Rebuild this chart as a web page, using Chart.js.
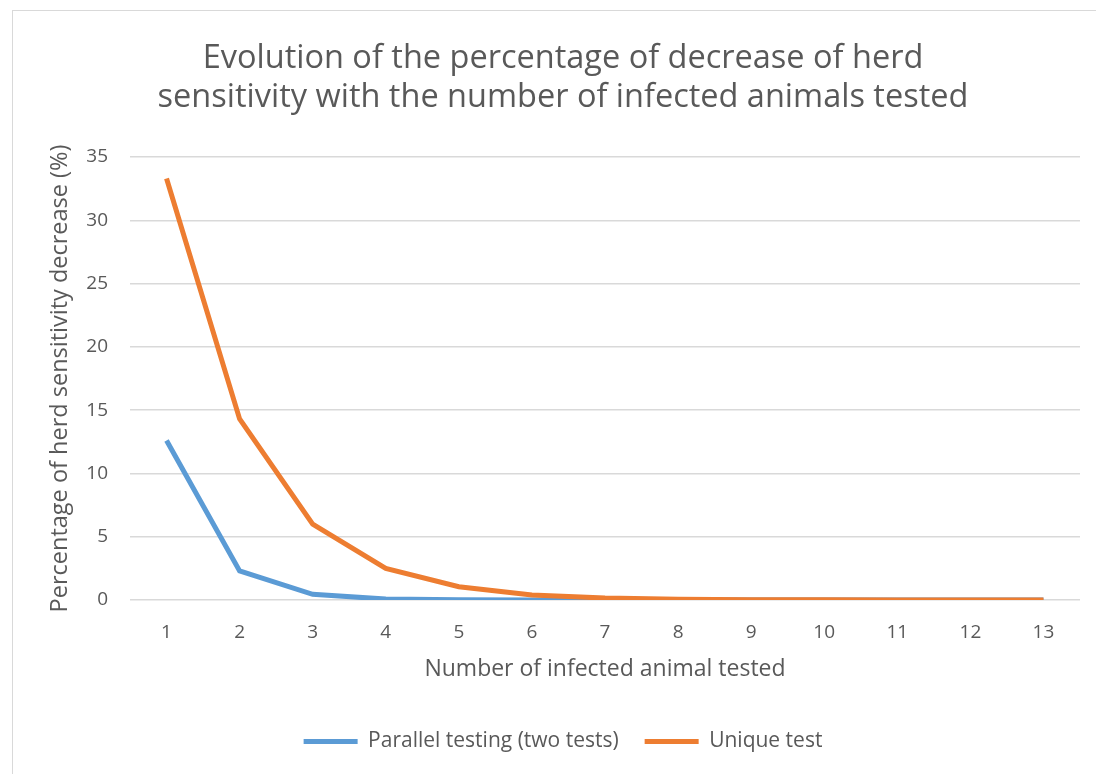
<!DOCTYPE html>
<html>
<head>
<meta charset="utf-8">
<script src="https://cdn.jsdelivr.net/npm/chart.js@4"></script>
<style>
  body { margin: 0; background: #fff; }
  #wrap { position: absolute; left: 0; top: 0; width: 1096px; height: 774px; }
  #frame { position: absolute; left: 12px; top: 10px; width: 1100px; height: 780px; border: 1px solid #d9d9d9; box-sizing: border-box; }
</style>
</head>
<body>
<div id="frame"></div>
<div id="wrap"><canvas id="myChart" width="1096" height="774"></canvas></div>
<script>
// data
const animals = ['1', '2', '3', '4', '5', '6', '7', '8', '9', '10', '11', '12', '13'];
const parallelTesting = [12.6, 2.3, 0.45, 0.07, 0.01, 0, 0, 0, 0, 0, 0, 0, 0];
const uniqueTest = [33.3, 14.3, 6.0, 2.5, 1.05, 0.4, 0.15, 0.06, 0.02, 0.01, 0, 0, 0];
const yTicks = [0, 5, 10, 15, 20, 25, 30, 35];

const grey = '#595959';
const font = '"Open Sans", sans-serif';

const config = {
    type: 'line',
    data: {
        labels: animals,
        datasets: [
            {
                label: 'Parallel testing (two tests)',
                data: parallelTesting,
                borderColor: '#5B9BD5',
                backgroundColor: '#5B9BD5',
                borderWidth: 5,
                pointRadius: 0,
                tension: 0,
                order: 1,
            },
            {
                label: 'Unique test',
                data: uniqueTest,
                borderColor: '#ED7D31',
                backgroundColor: '#ED7D31',
                borderWidth: 5,
                pointRadius: 0,
                tension: 0,
                order: 0,
            },
        ]
    },
    options: {
        responsive: false,
        animation: false,
        layout: {
            padding: { left: 46, right: 16, top: 39, bottom: 12 }
        },
        plugins: {
            title: {
                display: true,
                text: ['Evolution of the percentage of decrease of herd', 'sensitivity with the number of infected animals tested'],
                color: grey,
                font: { family: font, size: 32.5, weight: 'normal' },
                lineHeight: 1.4,
                padding: { top: 0, bottom: 40 },
            },
            legend: {
                position: 'bottom',
                labels: {
                    usePointStyle: true,
                    pointStyle: 'line',
                    pointStyleWidth: 54,
                    boxWidth: 54,
                    color: grey,
                    font: { family: font, size: 21 },
                    padding: 26,
                    sort: (a, b) => a.datasetIndex - b.datasetIndex,
                },
            },
            tooltip: { enabled: false },
        },
        scales: {
            x: {
                offset: true,
                afterFit: axis => { axis.height = 105; },
                grid: { display: false, drawTicks: false },
                border: { display: false },
                ticks: { color: grey, font: { family: font, size: 19 }, padding: 21 },
                title: {
                    display: true,
                    text: 'Number of infected animal tested',
                    color: grey,
                    font: { family: font, size: 23 },
                    padding: { top: 0, bottom: 22 },
                },
            },
            y: {
                min: 0,
                max: 35,
                afterBuildTicks: axis => { axis.ticks = yTicks.map(v => ({ value: v })); },
                afterFit: axis => { axis.width = 84; },
                grid: { color: '#d9d9d9', lineWidth: 1.5, drawTicks: false },
                border: { display: false },
                ticks: { color: grey, font: { family: font, size: 19 }, padding: 22 },
                title: {
                    display: true,
                    text: 'Percentage of herd sensitivity decrease (%)',
                    color: grey,
                    font: { family: font, size: 23.5 },
                    padding: { top: 0, bottom: 0 },
                },
            },
        },
    }
};

// render
const ctx = document.getElementById('myChart');
const myChart = new Chart(ctx, config);
</script>
</body>
</html>
